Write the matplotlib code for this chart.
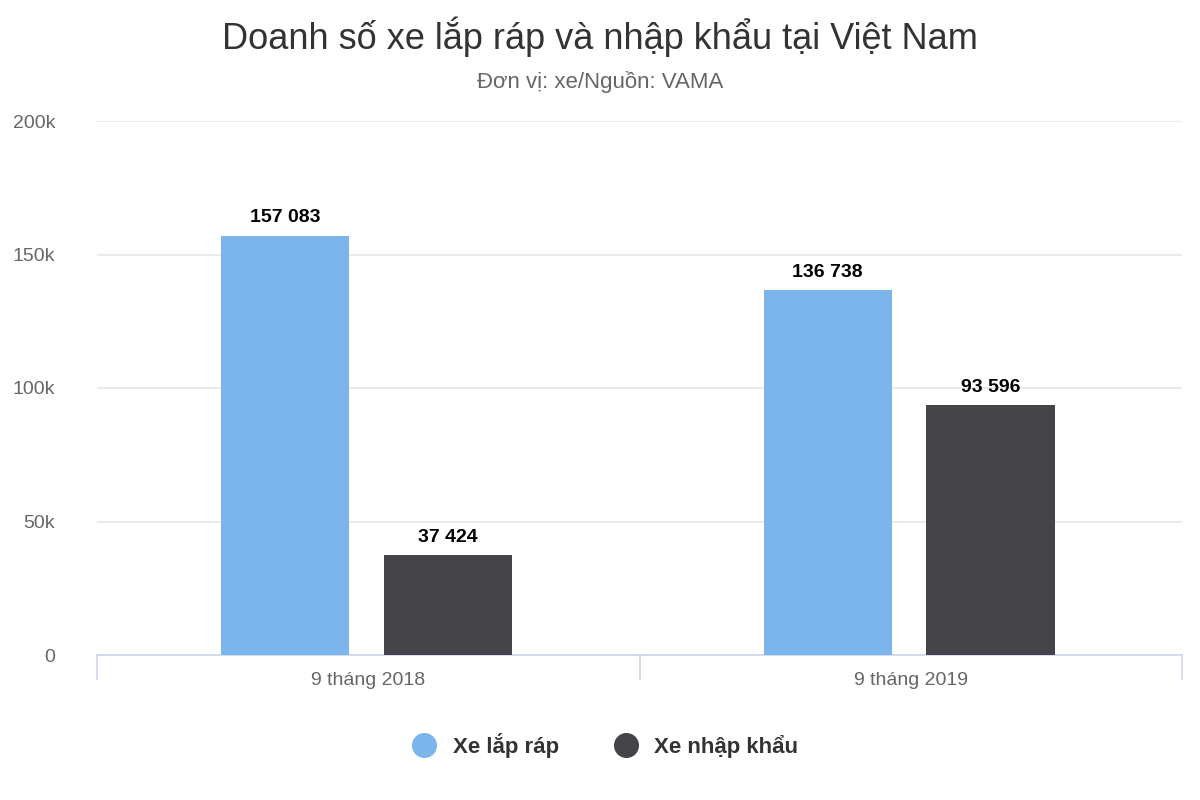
import matplotlib
matplotlib.use("Agg")
import matplotlib.pyplot as plt
import numpy as np
from matplotlib.lines import Line2D

plt.rcParams['font.family'] = ['Liberation Sans', 'DejaVu Sans']

categories = ["9 tháng 2018", "9 tháng 2019"]
series_names = ["Xe lắp ráp", "Xe nhập khẩu"]
lap_rap = [157083, 136738]
nhap_khau = [37424, 93596]
colors = ["#7cb5ec", "#434348"]
yticks = [0, 50000, 100000, 150000, 200000]
ytick_labels = ["0", "50k", "100k", "150k", "200k"]

fig = plt.figure(figsize=(12, 8), dpi=100)
ax = fig.add_axes([97/1200, 1-655/800, (1182-97)/1200, (655-121)/800])
x = np.arange(len(categories))
w = 0.236
off = 0.15
for vals, o, c in [(lap_rap, -off, colors[0]), (nhap_khau, off, colors[1])]:
    bars = ax.bar(x + o - 0.003, vals, width=w, color=c, zorder=3)
    for b, v in zip(bars, vals):
        ax.text(b.get_x()+b.get_width()/2, v + 3500, f"{v:,}".replace(",", " "),
                ha="center", va="bottom", fontsize=14, fontweight="bold", color="black")
ax.set_xlim(-0.5, 1.5)
ax.set_ylim(0, 200000)
ax.set_yticks(yticks)
ax.set_yticklabels(ytick_labels)
ax.grid(axis="y", color="#e6e6e6", lw=1.2, zorder=0)
for s in ["top", "right", "left"]:
    ax.spines[s].set_visible(False)
ax.spines["bottom"].set_color("#ccd6eb")
ax.spines["bottom"].set_linewidth(1.2)
ax.set_xticks(x)
ax.set_xticklabels(categories)
ax.set_xticks([-0.5, 0.5, 1.5], minor=True)
ax.tick_params(axis="x", which="major", length=0, labelsize=14, labelcolor="#666666", pad=12)
ax.tick_params(axis="x", which="minor", length=18, color="#ccd6eb", width=1.2)
ax.tick_params(axis="y", length=0, labelsize=14, labelcolor="#666666", pad=30)

fig.text(0.5, 1-37/800, "Doanh số xe lắp ráp và nhập khẩu tại Việt Nam", ha="center", va="center", fontsize=26, color="#333333")
fig.text(0.5, 1-82/800, "Đơn vị: xe/Nguồn: VAMA", ha="center", va="center", fontsize=16, color="#666666")
handles = [Line2D([], [], marker="o", ls="", markersize=17, color=c) for c in colors]
fig.legend(handles, series_names, loc="center", bbox_to_anchor=(0.5, 1-745/800), ncol=2, frameon=False,
           prop={"weight": "bold", "size": 16}, handletextpad=0.3, columnspacing=2.0, labelcolor="#333333")
fig.savefig("out.png", dpi=100)
